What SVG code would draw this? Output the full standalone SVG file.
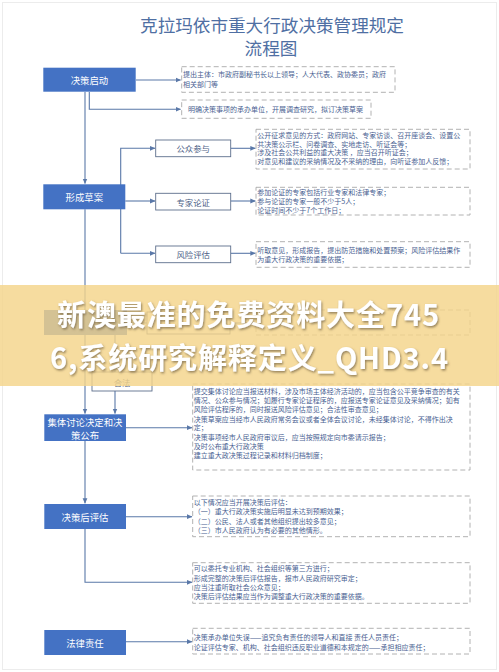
<svg xmlns="http://www.w3.org/2000/svg" width="499" height="672" viewBox="0 0 499 672">
<defs>
<marker id="ah" markerWidth="6" markerHeight="6" refX="5" refY="3" orient="auto" markerUnits="userSpaceOnUse">
<path d="M0,0.6 L5.5,3 L0,5.4 Z" fill="#5a78a8"/>
</marker>
<filter id="sh" x="-10%" y="-30%" width="120%" height="160%">
<feDropShadow dx="1" dy="1.5" stdDeviation="1.2" flood-color="#6b5a3a" flood-opacity="0.7"/>
</filter>
</defs>
<style>
text{font-family:"Noto Sans CJK SC","Noto Sans",sans-serif;dominant-baseline:central}
.title{font-size:17.6px;fill:#4f6fa3;text-anchor:middle}
.node{fill:#4472c4}
.nt{font-size:9.4px;fill:#ffffff;text-anchor:middle}
.sub{fill:#ffffff;stroke:#5d6f8c;stroke-width:0.9}
.st{font-size:8.4px;fill:#4e6286;text-anchor:middle}
.dash{fill:#ffffff;stroke:#a9a9a9;stroke-width:0.9;stroke-dasharray:5 3}
.dt{font-size:7px;fill:#4a5f92}
.cn{fill:none;stroke:#5a78a8;stroke-width:1.1}
.ban{font-size:29px;font-weight:700;fill:#ffffff;letter-spacing:0.9px}
</style>
<rect x="0" y="0" width="499" height="672" fill="#ffffff"/>
<rect x="2.5" y="2.5" width="494" height="667" fill="none" stroke="#ececec" stroke-width="1"/>
<g id="title">
<text class="title" x="272" y="24.5">克拉玛依市重大行政决策管理规定</text>
<text class="title" x="271" y="47.5">流程图</text>
</g>
<g id="connectors">
<path class="cn" d="M136,80 H180.5" marker-end="url(#ah)"/>
<path class="cn" d="M85,92 V183.5" marker-end="url(#ah)"/>
<path class="cn" d="M89.3,92 V109.3 H180.5" marker-end="url(#ah)"/>
<path class="cn" d="M125.3,201 H155" marker-end="url(#ah)"/>
<path class="cn" d="M120.7,253.3 V148.3 H155" marker-end="url(#ah)"/>
<path class="cn" d="M120.7,253.3 H155" marker-end="url(#ah)"/>
<path class="cn" d="M230.7,148.3 H255.3" marker-end="url(#ah)"/>
<path class="cn" d="M230.7,201 H255.3" marker-end="url(#ah)"/>
<path class="cn" d="M230.7,253.3 H255.3" marker-end="url(#ah)"/>
<path class="cn" d="M85,209.3 V310"/>
<path class="cn" d="M127,323 H147"/>
<path class="cn" d="M230,323 H256"/>
<path class="cn" d="M85,335 V413.5" marker-end="url(#ah)"/>
<path class="cn" d="M115,335 V413.5" marker-end="url(#ah)"/>
<path class="cn" d="M126,427.7 H192" marker-end="url(#ah)"/>
<path class="cn" d="M85,441 V503.3" marker-end="url(#ah)"/>
<path class="cn" d="M126,516.7 H192" marker-end="url(#ah)"/>
<path class="cn" d="M85,529 V582.3 H192" marker-end="url(#ah)"/>
<path class="cn" d="M126,641.7 H192" marker-end="url(#ah)"/>
</g>
<g id="n-start">
<rect class="node" x="43.3" y="67.7" width="92.4" height="24"/>
<text class="nt" x="89.5" y="79.7">决策启动</text>
</g>
<g id="d-start1">
<rect class="dash" x="181.7" y="66.7" width="213.3" height="25.6"/>
<text class="dt" x="183" y="74">提出主体：市政府副秘书长以上领导；人大代表、政协委员；政府</text>
<text class="dt" x="183" y="84.3">相关部门等</text>
</g>
<g id="d-start2">
<rect class="dash" x="181.7" y="100" width="189.3" height="18.3"/>
<text class="dt" x="188" y="109.3">明确决策事项的承办单位，开展调查研究，拟订决策草案</text>
</g>
<g id="n-draft">
<rect class="node" x="43.3" y="184.3" width="82" height="25"/>
<text class="nt" x="84.3" y="196.8">形成草案</text>
</g>
<g id="s-public">
<rect class="sub" x="155.7" y="140" width="75" height="16.7"/>
<text class="st" x="193.2" y="148.3">公众参与</text>
</g>
<g id="d-public">
<rect class="dash" x="256" y="129.3" width="214" height="39.7"/>
<text class="dt" x="257.3" y="135">公开征求意见的方式：政府网站、专家访谈、召开座谈会、设置公</text>
<text class="dt" x="257.3" y="143.7">共决策公示栏、问卷调查、实地走访、听证会等；</text>
<text class="dt" x="257.3" y="152.3">涉及社会公共利益的重大决策 ，应当召开听证会；</text>
<text class="dt" x="257.3" y="161">对意见和建议的采纳情况及不采纳的理由，向听证参加人反馈；</text>
</g>
<g id="s-expert">
<rect class="sub" x="155.7" y="193.3" width="75" height="16.7"/>
<text class="st" x="193.2" y="201.6">专家论证</text>
</g>
<g id="d-expert">
<rect class="dash" x="256" y="187.3" width="214" height="27.7"/>
<text class="dt" x="257.3" y="192.4">参加论证的专家包括行业专家和法律专家；</text>
<text class="dt" x="257.3" y="201.2">参与论证的专家一般不少于5人；</text>
<text class="dt" x="257.3" y="210">论证时间不少于7个工作日；</text>
</g>
<g id="s-risk">
<rect class="sub" x="155.7" y="246" width="75" height="16.7"/>
<text class="st" x="193.2" y="254.3">风险评估</text>
</g>
<g id="d-risk">
<rect class="dash" x="256" y="241.7" width="214" height="25.6"/>
<text class="dt" x="257.3" y="250">听取意见，形成报告，提出防范措施和处置预案；风险评估结果作</text>
<text class="dt" x="257.3" y="258.7">为重大行政决策的重要依据；</text>
</g>
<g id="n-legal">
<rect class="node" x="44" y="310" width="83" height="25"/>
</g>
<g id="s-legal">
<rect class="sub" x="147" y="312" width="83" height="22"/>
</g>
<g id="d-legal">
<rect class="dash" x="256" y="310" width="214" height="25"/>
</g>
<g id="s-legal2">
<rect class="sub" x="92" y="372" width="60" height="19"/>
<text class="st" x="122" y="382.4">合法</text>
</g>
<g id="n-collective">
<rect class="node" x="44.3" y="414.3" width="81.7" height="26.7"/>
<text class="nt" x="85" y="421.7">集体讨论决定和决</text>
<text class="nt" x="85" y="434.5">策公布</text>
</g>
<g id="d-collective">
<rect class="dash" x="192.7" y="384" width="277.3" height="86"/>
<text class="dt" x="193.8" y="391">提交集体讨论应当报送材料，涉及市场主体经济活动的，应当包含公平竞争审查的有关</text>
<text class="dt" x="193.8" y="400">情况、公众参与情况；如履行专家论证程序的，应报送专家论证意见及采纳情况；如有</text>
<text class="dt" x="193.8" y="409.3">风险评估程序的，同时报送风险评估意见；合法性审查意见；</text>
<text class="dt" x="193.8" y="418.7">决策草案应当经市人民政府常务会议或者全体会议讨论，未经集体讨论，不得作出决</text>
<text class="dt" x="193.8" y="427.3">定；</text>
<text class="dt" x="193.8" y="436.7">决策事项经市人民政府审议后，应当按照规定向市委请示报告；</text>
<text class="dt" x="193.8" y="446">及时公布重大行政决策</text>
<text class="dt" x="193.8" y="455">建立重大政决策过程记录和材料归档制度；</text>
</g>
<g id="n-post">
<rect class="node" x="44.3" y="504" width="81.7" height="25"/>
<text class="nt" x="85" y="516.5">决策后评估</text>
</g>
<g id="d-post1">
<rect class="dash" x="192.7" y="496" width="277.3" height="40.7"/>
<text class="dt" x="193.8" y="502.3">以下情况应当开展决策后评估：</text>
<text class="dt" x="193.8" y="511.3">（一）重大行政决策实施后明显未达到预期效果；</text>
<text class="dt" x="193.8" y="520.7">（二）公民、法人或者其他组织提出较多意见；</text>
<text class="dt" x="193.8" y="530">（三）市人民政府认为有必要的其他情形。</text>
</g>
<g id="d-post2">
<rect class="dash" x="192.7" y="562.7" width="277.3" height="40.6"/>
<text class="dt" x="193.8" y="568.3">可以委托专业机构、社会组织等第三方进行；</text>
<text class="dt" x="193.8" y="577.7">形成完整的决策后评估报告，报市人民政府研究审定；</text>
<text class="dt" x="193.8" y="586.7">应当注重听取社会公众意见；</text>
<text class="dt" x="193.8" y="596">决策后评估结果应当作为调整重大行政决策的重要依据。</text>
</g>
<g id="n-liability">
<rect class="node" x="44.3" y="630" width="81.7" height="25"/>
<text class="nt" x="85" y="642.5">法律责任</text>
</g>
<g id="d-liability">
<rect class="dash" x="192.7" y="628.3" width="277.3" height="25.7"/>
<text class="dt" x="193.8" y="636.7">决策承办单位失误——追究负有责任的领导人和直接 责任人员责任；</text>
<text class="dt" x="193.8" y="646.7">论证评估专家、机构、社会组织违反职业道德和本规定的——承担相应责任；</text>
</g>
<g id="banner">
<rect x="0" y="285" width="499" height="101" fill="#f4d48a" fill-opacity="0.82"/>
<g filter="url(#sh)">
<text class="ban" x="57" y="313.2">新澳最准的免费资料大全745</text>
<text class="ban" x="50" y="355.6">6,系统研究解释定义_QHD3.4</text>
</g>
</g>
</svg>
